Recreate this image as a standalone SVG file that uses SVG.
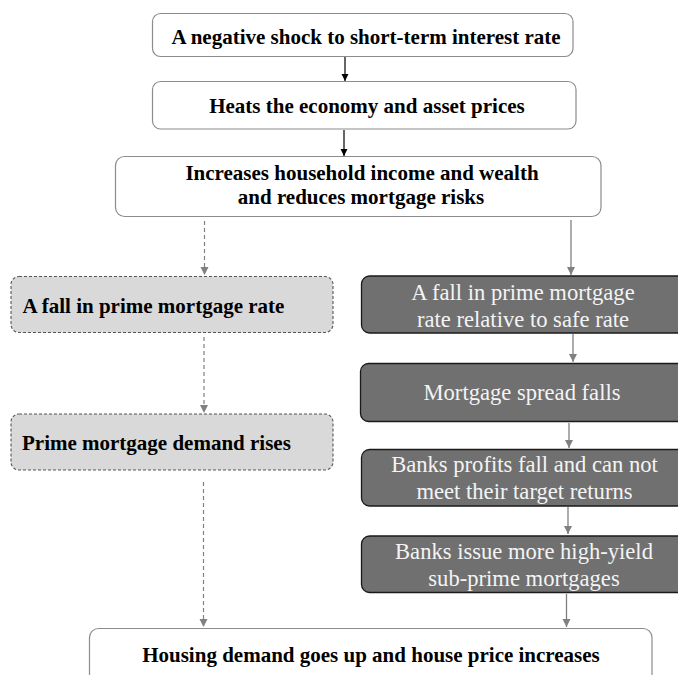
<svg xmlns="http://www.w3.org/2000/svg" width="678" height="675" viewBox="0 0 678 675">
<style>
.w{fill:#ffffff;stroke:#8c8c8c;stroke-width:1.2}
.l{fill:#d9d9d9;stroke:#555555;stroke-width:1.1;stroke-dasharray:3 2}
.d{fill:#707070;stroke:#1a1a1a;stroke-width:1.3}
.tb{font-family:"Liberation Serif","Times New Roman",serif;font-weight:bold;font-size:21px;fill:#000000}
.tw{font-family:"Liberation Serif","Times New Roman",serif;font-size:22.6px;fill:#f4f4f4}
.m{text-anchor:middle}
.k{stroke:#000000;stroke-width:1.2;fill:none}
.g{stroke:#808080;stroke-width:1.3;fill:none}
.gd{stroke:#808080;stroke-width:1.2;fill:none;stroke-dasharray:4 3}
</style>
<defs>
<marker id="ak" markerWidth="8" markerHeight="8" refX="7" refY="4" orient="auto" markerUnits="userSpaceOnUse"><path d="M0,0.5 L7,4 L0,7.5 Z" fill="#000000"/></marker>
<marker id="ag" markerWidth="10" markerHeight="10" refX="8" refY="4.5" orient="auto" markerUnits="userSpaceOnUse"><path d="M0,0.5 L8,4.5 L0,8.5 Z" fill="#808080"/></marker>
</defs>
<g id="connectors">
<line class="k" x1="345" y1="57" x2="345" y2="81" marker-end="url(#ak)"/>
<line class="k" x1="344" y1="130" x2="344" y2="156" marker-end="url(#ak)"/>
<line class="gd" x1="204.5" y1="221" x2="204.5" y2="275" marker-end="url(#ag)"/>
<line class="g" x1="571" y1="220" x2="571" y2="275" marker-end="url(#ag)"/>
<line class="gd" x1="204" y1="337" x2="204" y2="413" marker-end="url(#ag)"/>
<line class="gd" x1="203.5" y1="482" x2="203.5" y2="627" marker-end="url(#ag)"/>
<line class="g" x1="573" y1="334" x2="573" y2="362" marker-end="url(#ag)"/>
<line class="g" x1="569" y1="423" x2="569" y2="448" marker-end="url(#ag)"/>
<line class="g" x1="568" y1="507" x2="568" y2="534" marker-end="url(#ag)"/>
<line class="g" x1="566.5" y1="594" x2="566.5" y2="627" marker-end="url(#ag)"/>
</g>
<g id="n1">
<rect class="w" x="152.5" y="13.5" width="420.5" height="43" rx="8"/>
<text class="tb m" x="366" y="43.5">A negative shock to short-term interest rate</text>
</g>
<g id="n2">
<rect class="w" x="152.5" y="81.5" width="423.5" height="47.5" rx="8"/>
<text class="tb m" x="367" y="113">Heats the economy and asset prices</text>
</g>
<g id="n3">
<rect class="w" x="115.5" y="156.5" width="485.5" height="60" rx="9"/>
<text class="tb m" x="362" y="180">Increases household income and wealth</text>
<text class="tb m" x="361" y="203.5">and reduces mortgage risks</text>
</g>
<g id="l1">
<rect class="l" x="11" y="276.5" width="322" height="56" rx="8"/>
<text class="tb" x="22.5" y="312.5">A fall in prime mortgage rate</text>
</g>
<g id="l2">
<rect class="l" x="11" y="414" width="322" height="56" rx="8"/>
<text class="tb" x="22" y="449.5">Prime mortgage demand rises</text>
</g>
<g id="r1">
<rect class="d" x="361.5" y="276" width="324" height="57" rx="8"/>
<text class="tw m" x="523" y="300">A fall in prime mortgage</text>
<text class="tw m" x="523" y="327">rate relative to safe rate</text>
</g>
<g id="r2">
<rect class="d" x="360.5" y="363.5" width="325" height="58" rx="8"/>
<text class="tw m" x="522" y="399.5">Mortgage spread falls</text>
</g>
<g id="r3">
<rect class="d" x="361.5" y="449.5" width="324" height="56.5" rx="8"/>
<text class="tw m" x="524.5" y="472">Banks profits fall and can not</text>
<text class="tw m" x="524.5" y="499">meet their target returns</text>
</g>
<g id="r4">
<rect class="d" x="361.5" y="536" width="324" height="56.5" rx="8"/>
<text class="tw m" x="524" y="558.5">Banks issue more high-yield</text>
<text class="tw m" x="524" y="585.5">sub-prime mortgages</text>
</g>
<g id="n4">
<rect class="w" x="89.5" y="628.5" width="562.5" height="70" rx="9"/>
<text class="tb m" x="371" y="661.5">Housing demand goes up and house price increases</text>
</g>
</svg>
